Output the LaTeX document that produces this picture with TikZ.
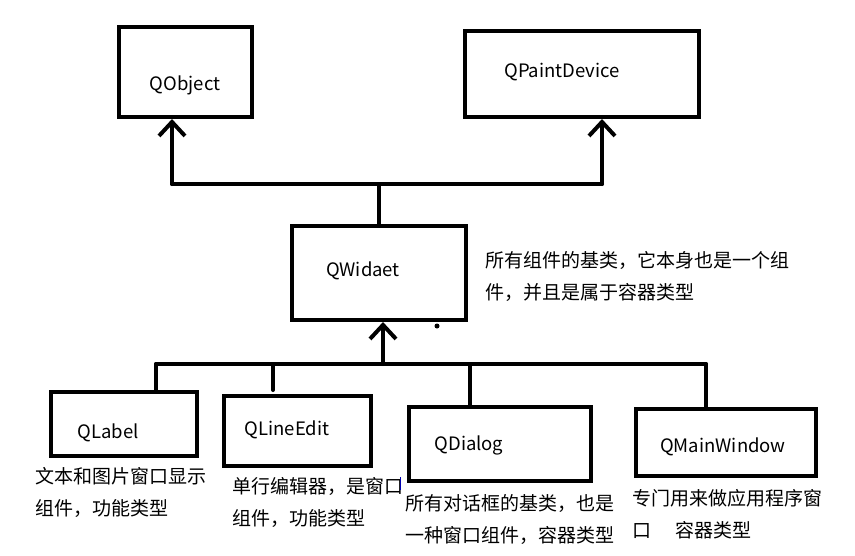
\documentclass[tikz,border=0pt]{standalone}
\usepackage{fontspec}
\setmainfont{Noto Sans CJK SC}
\usetikzlibrary{arrows.meta}
\begin{document}
\begin{tikzpicture}[x=1pt,y=-1pt,
  box/.style={draw,line width=4pt,rectangle,inner sep=0pt,line join=miter},
  lbl/.style={inner sep=0pt,font=\fontsize{18.5}{22}\selectfont},
  desc/.style={inner sep=0pt,anchor=west,align=left,font=\fontsize{19}{32}\selectfont},
  conn/.style={line width=4pt,line cap=round},
  arr/.style={conn,-{Straight Barb[length=14pt,width=26pt,line width=4pt]}}]
\useasboundingbox (0,0) rectangle (855,555);
\fill[white] (0,0) rectangle (855,555);
% boxes
\node[box,minimum width=133pt,minimum height=90pt] (obj) at (185.5,72) {};
\node[box,minimum width=234pt,minimum height=86pt] (pd) at (582,74) {};
\node[box,minimum width=174pt,minimum height=94pt] (wid) at (379,273) {};
\node[box,minimum width=146pt,minimum height=64pt] (lab) at (124,424) {};
\node[box,minimum width=147pt,minimum height=70pt] (le) at (297.5,431) {};
\node[box,minimum width=182pt,minimum height=74pt] (dlg) at (500,444) {};
\node[box,minimum width=180pt,minimum height=67pt] (mw) at (726,442.5) {};
% labels
\node[lbl] (tobj) at (185,85) {QObject};
\node[lbl] (tpd) at (562,72) {QPaintDevice};
\node[lbl] (twid) at (363,271) {QWidaet};
\node[lbl] (tlab) at (108,433) {QLabel};
\node[lbl] (tle) at (287,430) {QLineEdit};
\node[lbl] (tdlg) at (469,445) {QDialog};
\node[lbl] (tmw) at (723,447) {QMainWindow};
% descriptions
\node[desc] (dwid) at (485,276) {所有组件的基类，它本身也是一个组\\件，并且是属于容器类型};
\node[desc] (dlab) at (35,492) {文本和图片窗口显示\\组件，功能类型};
\node[desc] (dle) at (232,502) {单行编辑器，是窗口\\组件，功能类型};
\node[desc] (ddlg) at (405,519) {所有对话框的基类，也是\\一种窗口组件，容器类型};
\node[desc] (dmw) at (632,514.5) {专门用来做应用程序窗\\口\hspace{24pt}容器类型};
% top connectors
\coordinate (hL) at (172,184);
\coordinate (hR) at (602,184);
\draw[conn] (hL) -- (hR);
\draw[arr] (hL) -- (hL |- obj.south);
\draw[arr] (hR) -- (hR |- pd.south);
\draw[conn] (wid.north) -- (wid.north |- hL);
% bottom connectors
\coordinate (bL) at (156,364);
\coordinate (bR) at (706,364);
\coordinate (bW) at (383,364);
\coordinate (bE) at (273,364);
\coordinate (bD) at (470,364);
\draw[conn] (bL) -- (bR);
\draw[arr] (bW) -- (bW |- wid.south);
\draw[conn] (bL) -- (bL |- lab.north);
\draw[conn] (bE) -- ([yshift=4pt]bE |- le.north);
\draw[conn] (bD) -- (bD |- dlg.north);
\draw[conn] (bR) -- (bR |- mw.north);
% stray marks
\fill (437,326) circle (2.5pt);
\draw[blue!70!black,line width=1pt] (400,477) -- (400,490);
\end{tikzpicture}
\end{document}
